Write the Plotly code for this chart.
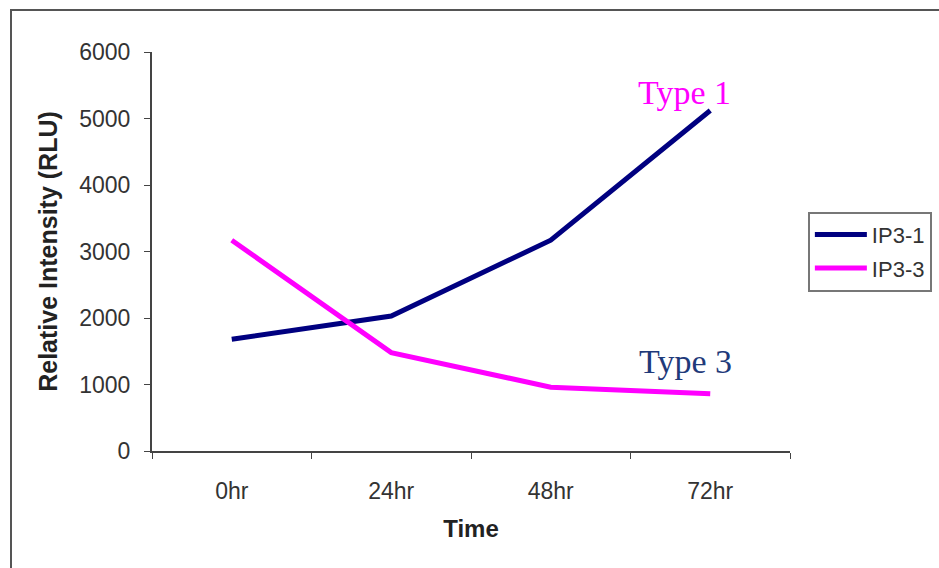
import plotly.graph_objects as go

categories = ["0hr", "24hr", "48hr", "72hr"]
ip3_1 = [1680, 2030, 3170, 5120]
ip3_3 = [3170, 1480, 960, 860]
y_ticks = [0, 1000, 2000, 3000, 4000, 5000, 6000]

fig = go.Figure()
fig.add_trace(go.Scatter(x=categories, y=ip3_1, mode="lines", name="IP3-1",
                         legendgroup="a",
                         line=dict(color="#000080", width=5)))
fig.add_trace(go.Scatter(x=categories, y=ip3_3, mode="lines", name="IP3-3",
                         legendgroup="b",
                         line=dict(color="#FF00FF", width=5)))

fig.add_annotation(x="72hr", y=5120, text="Type 1", showarrow=False,
                   xanchor="center", yanchor="middle", xshift=-26, yshift=18,
                   font=dict(family="Liberation Serif", size=34, color="#FF00FF"))
fig.add_annotation(x="72hr", y=860, text="Type 3", showarrow=False,
                   xanchor="center", yanchor="middle", xshift=-25, yshift=32,
                   font=dict(family="Liberation Serif", size=34, color="#1F3A7A"))

fig.add_shape(type="rect", xref="paper", yref="paper",
              x0=-0.221, x1=1.5, y0=-0.5, y1=1.105,
              line=dict(color="#555555", width=2), fillcolor="rgba(0,0,0,0)")

fig.update_layout(
    width=939, height=568,
    margin=dict(l=152, r=149, t=52, b=117, autoexpand=False),
    paper_bgcolor="white", plot_bgcolor="white",
    font=dict(family="Liberation Sans, Arial", size=23, color="#333333"),
    legend=dict(x=1.028, y=0.6, xanchor="left", yanchor="top",
                bordercolor="#777777", borderwidth=2, bgcolor="white",
                font=dict(size=22, color="#333333"), itemwidth=52,
                tracegroupgap=2),
    showlegend=True,
)
fig.update_xaxes(type="category", range=[-0.5, 3.5], tickson="boundaries",
                 ticks="outside", ticklen=6, tickcolor="#444444",
                 ticklabelstandoff=18, automargin=False,
                 showline=True, linecolor="#444444", linewidth=2,
                 showgrid=False, zeroline=False,
                 title=dict(text="<b>Time</b>", font=dict(size=24, color="#222222"), standoff=18))
fig.update_yaxes(range=[0, 6000], tickvals=y_ticks, ticks="outside", ticklen=6,
                 tickcolor="#444444", ticklabelstandoff=9, automargin=False,
                 showline=True, linecolor="#444444", linewidth=2,
                 showgrid=False, zeroline=False,
                 title=dict(text="<b>Relative Intensity (RLU)</b>", font=dict(size=25, color="#222222"), standoff=14))

fig.write_html("out.html")
